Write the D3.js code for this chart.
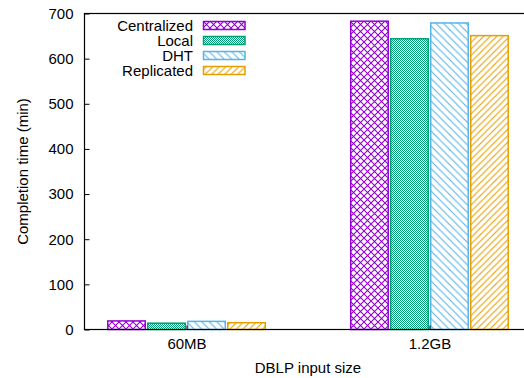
<!DOCTYPE html>
<html><head><meta charset="utf-8">
<script src="https://cdn.jsdelivr.net/npm/d3@7"></script>
<style>
body{margin:0;background:#fff;}
text{font-family:"Liberation Sans",Arial,sans-serif;font-size:15px;fill:#000;}
</style></head>
<body><svg id="c" width="524" height="378"></svg>
<script>
const categories = ["60MB", "1.2GB"];
const seriesNames = ["Centralized", "Local", "DHT", "Replicated"];
const centralized = [19, 683];
const local = [14, 644];
const dht = [18, 679];
const replicated = [15, 651];
const yTicks = [0, 100, 200, 300, 400, 500, 600, 700];
const colors = ["#9400D3", "#009E73", "#56B4E9", "#E69F00"];
const series = [centralized, local, dht, replicated];

const svg = d3.select("#c");
const L = 84.5, R = 531.5, T = 13.5, B = 329.5;
const FONT = '"Liberation Sans",Arial,sans-serif';

const defs = svg.append("defs");
function cross(id, color, s, sw) {
  const p = defs.append("pattern").attr("id", id).attr("patternUnits", "userSpaceOnUse")
    .attr("width", s).attr("height", s);
  p.append("path").attr("d", `M0,0L${s},${s}M${s},0L0,${s}`)
    .attr("stroke", color).attr("stroke-width", sw).attr("fill", "none");
}
cross("p0", colors[0], 7, 1.1);
{
  const p = defs.append("pattern").attr("id", "p1").attr("patternUnits", "userSpaceOnUse")
    .attr("width", 2).attr("height", 2);
  p.append("rect").attr("x", 0).attr("y", 0).attr("width", 1).attr("height", 1).attr("fill", colors[1]);
  p.append("rect").attr("x", 1).attr("y", 1).attr("width", 1).attr("height", 1).attr("fill", colors[1]);
}
function diag(id, color, s, back) {
  const p = defs.append("pattern").attr("id", id).attr("patternUnits", "userSpaceOnUse")
    .attr("width", s).attr("height", s);
  const d = back ? `M0,0L${s},${s}M${-s},0L${s},${2*s}M0,${-s}L${2*s},${s}`
                 : `M0,${s}L${s},0M${-s},${s}L${s},${-s}M0,${2*s}L${2*s},0`;
  p.append("path").attr("d", d).attr("stroke", color).attr("stroke-width", 1.1).attr("fill", "none");
}
diag("p2", colors[2], 7.5, true);
diag("p3", colors[3], 6.5, false);

const y = d3.scaleLinear().domain([0, 700]).range([B, T]);
const xc = d3.scaleLinear().domain([-0.42, 1.42]).range([L, R]);
const x = i => xc(i);
const groupW = 160, barPitch = groupW / 4, barW = 37.5;

categories.forEach((c, ci) => {
  const cx = x(ci);
  series.forEach((s, si) => {
    const bx = cx - groupW / 2 + si * barPitch + (barPitch - barW) / 2;
    svg.append("rect")
      .attr("x", bx).attr("y", y(s[ci]))
      .attr("width", barW).attr("height", y(0) - y(s[ci]))
      .attr("fill", "#fff");
    svg.append("rect")
      .attr("x", bx).attr("y", y(s[ci]))
      .attr("width", barW).attr("height", y(0) - y(s[ci]))
      .attr("fill", `url(#p${si})`).attr("stroke", colors[si]).attr("stroke-width", 1.5);
  });
});

svg.append("rect").attr("x", L).attr("y", T).attr("width", R - L).attr("height", B - T)
  .attr("fill", "none").attr("stroke", "#000").attr("stroke-width", 1.2);

const yAxis = d3.axisLeft(y).tickValues(yTicks).tickSize(-5).tickPadding(11);
const ga = svg.append("g").attr("transform", `translate(${L},0)`).call(yAxis);
ga.select(".domain").remove();
ga.selectAll("line").attr("stroke", "#000");
ga.selectAll("text").style("font-size", "15px").style("font-family", FONT);

const xs = d3.scaleOrdinal().domain(categories).range(categories.map((c, i) => x(i)));
const xAxis = d3.axisBottom(xs).tickSize(-4).tickPadding(9);
const gx = svg.append("g").attr("transform", `translate(0,${B})`).call(xAxis);
gx.select(".domain").remove();
gx.selectAll("line").attr("stroke", "#000");
gx.selectAll("text").style("font-size", "15px").style("font-family", FONT);

svg.append("text").attr("x", (L + R) / 2).attr("y", 372.5).attr("text-anchor", "middle").text("DBLP input size");
svg.append("text").attr("transform", `translate(28,${(T + B) / 2}) rotate(-90)`).attr("text-anchor", "middle").text("Completion time (min)");

seriesNames.forEach((n, i) => {
  const cy = 25.5 + i * 15;
  svg.append("text").attr("x", 193).attr("y", cy + 5).attr("text-anchor", "end").text(n);
  svg.append("rect").attr("x", 203.5).attr("y", cy - 4).attr("width", 41.5).attr("height", 8)
    .attr("fill", `url(#p${i})`).attr("stroke", colors[i]).attr("stroke-width", 1.5);
});
</script></body></html>
